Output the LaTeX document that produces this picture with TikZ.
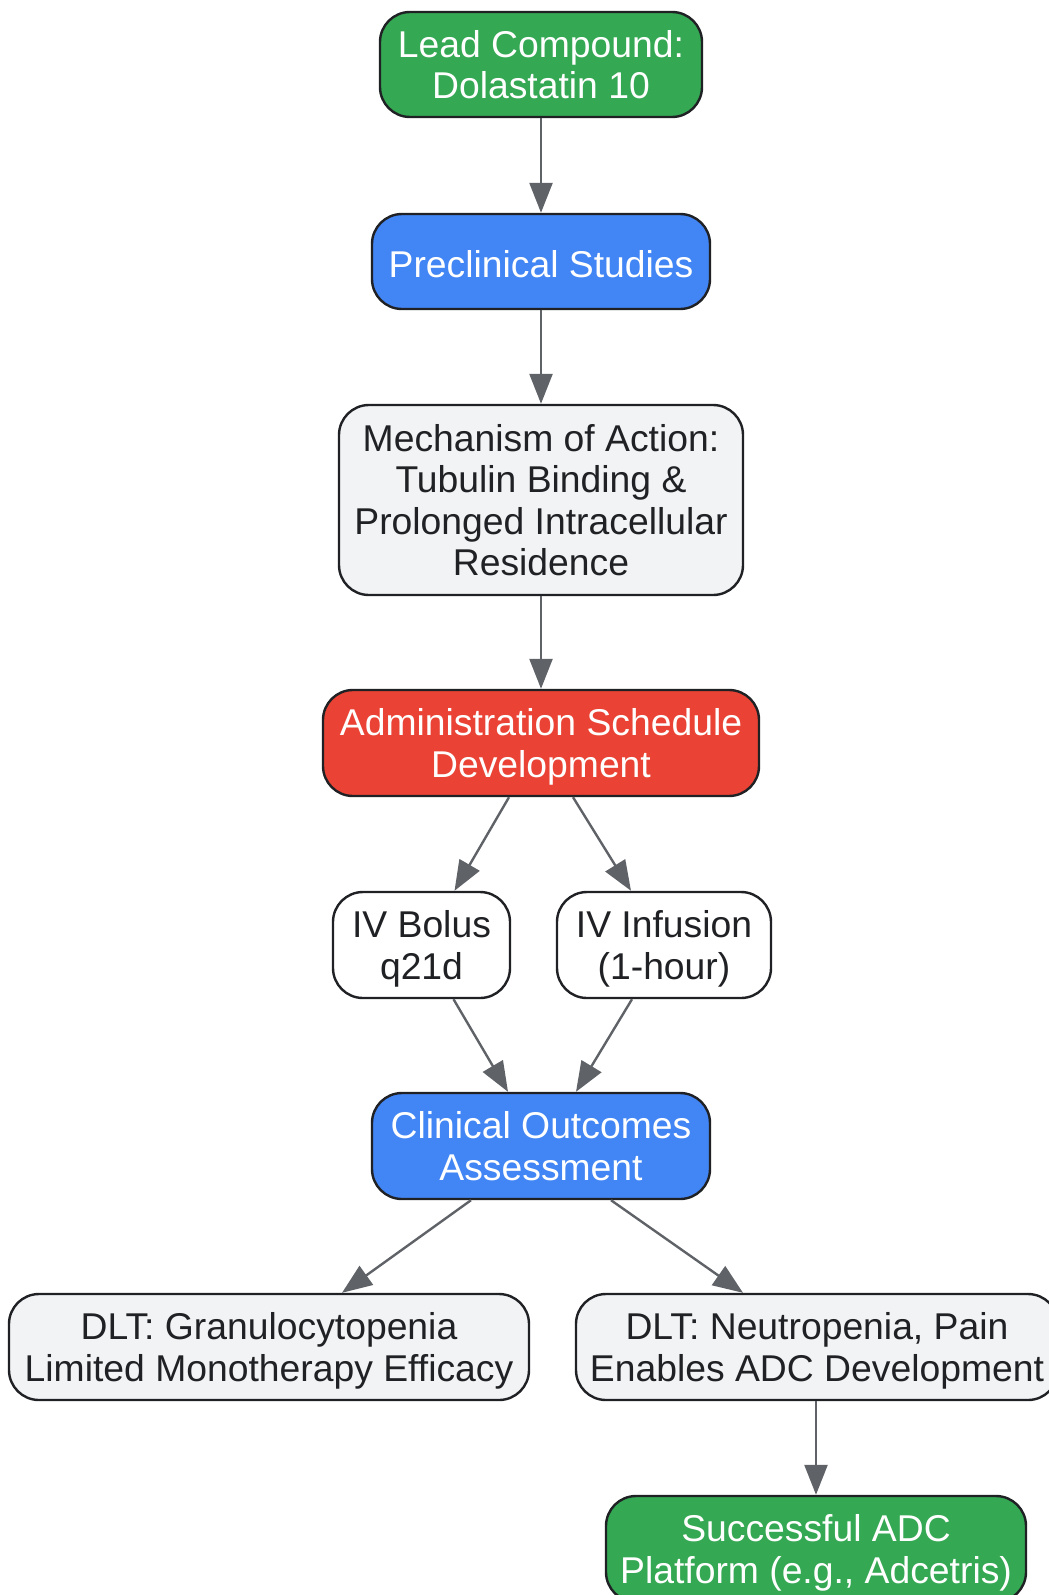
\documentclass[tikz,border=0pt]{standalone}
\usepackage{fontspec}
\setmainfont{Liberation Sans}
\usetikzlibrary{arrows.meta}
\definecolor{cgreen}{HTML}{34A853}
\definecolor{cblue}{HTML}{4285F4}
\definecolor{cred}{HTML}{EA4335}
\definecolor{clight}{HTML}{F1F3F4}
\definecolor{cborder}{HTML}{202124}
\definecolor{carrow}{HTML}{5F6368}
\definecolor{ctext}{HTML}{202124}
\tikzset{
  box/.style={draw=cborder, line width=2.4pt, rounded corners=30pt, inner sep=0pt,
    align=center, font=\fontsize{37.3}{41.5}\selectfont,
    execute at begin node={\rule{0pt}{31pt}}, text depth=0pt},
  darkbox/.style={box, text=white},
  lightbox/.style={box, text=ctext},
  conn/.style={draw=carrow, line width=2.4pt,
    -{Triangle[length=30pt,width=23pt]}, shorten >=0pt},
}
\begin{document}
\begin{tikzpicture}[x=1pt,y=-1pt]
\useasboundingbox (0,0) rectangle (1049,1595);
\clip (0,0) rectangle (1049,1595);
\node[darkbox, fill=cgreen, minimum width=322, minimum height=105] (lead) at (541,64.5) {Lead Compound:\\Dolastatin 10};
\node[darkbox, fill=cblue, minimum width=338, minimum height=95] (pre) at (541,261.5) {Preclinical Studies};
\node[lightbox, fill=clight, minimum width=404, minimum height=190] (mech) at (541,500) {Mechanism of Action:\\Tubulin Binding \&\\Prolonged Intracellular\\Residence};
\node[darkbox, fill=cred, minimum width=436, minimum height=106] (admin) at (541,743) {Administration Schedule\\Development};
\node[lightbox, fill=white, minimum width=177, minimum height=106] (bolus) at (421.5,945) {IV Bolus\\q21d};
\node[lightbox, fill=white, minimum width=214, minimum height=106] (inf) at (664,945) {IV Infusion\\(1-hour)};
\node[darkbox, fill=cblue, minimum width=338, minimum height=106] (clin) at (541,1146) {Clinical Outcomes\\Assessment};
\node[lightbox, fill=clight, minimum width=520, minimum height=106] (dlt1) at (269,1347) {DLT: Granulocytopenia\\Limited Monotherapy Efficacy};
\node[lightbox, fill=clight, minimum width=482, minimum height=106] (dlt2) at (817,1347) {DLT: Neutropenia, Pain\\Enables ADC Development};
\node[darkbox, fill=cgreen, minimum width=420, minimum height=106] (succ) at (816,1549) {Successful ADC\\Platform (e.g., Adcetris)};

\draw[conn] (lead.south) -- (pre.north);
\draw[conn] (pre.south) -- (mech.north);
\draw[conn] (mech.south) -- (admin.north);
\draw[conn] ([xshift=-32pt]admin.south) -- ([xshift=33pt]bolus.north);
\draw[conn] ([xshift=32pt]admin.south) -- ([xshift=-33pt]inf.north);
\draw[conn] ([xshift=32pt]bolus.south) -- ([xshift=-33pt]clin.north);
\draw[conn] ([xshift=-32pt]inf.south) -- ([xshift=35pt]clin.north);
\draw[conn] ([xshift=-70pt]clin.south) -- ([xshift=73pt]dlt1.north);
\draw[conn] ([xshift=70pt]clin.south) -- ([xshift=-74pt]dlt2.north);
\draw[conn] (dlt2.south -| succ.north) -- (succ.north);
\end{tikzpicture}
\end{document}
